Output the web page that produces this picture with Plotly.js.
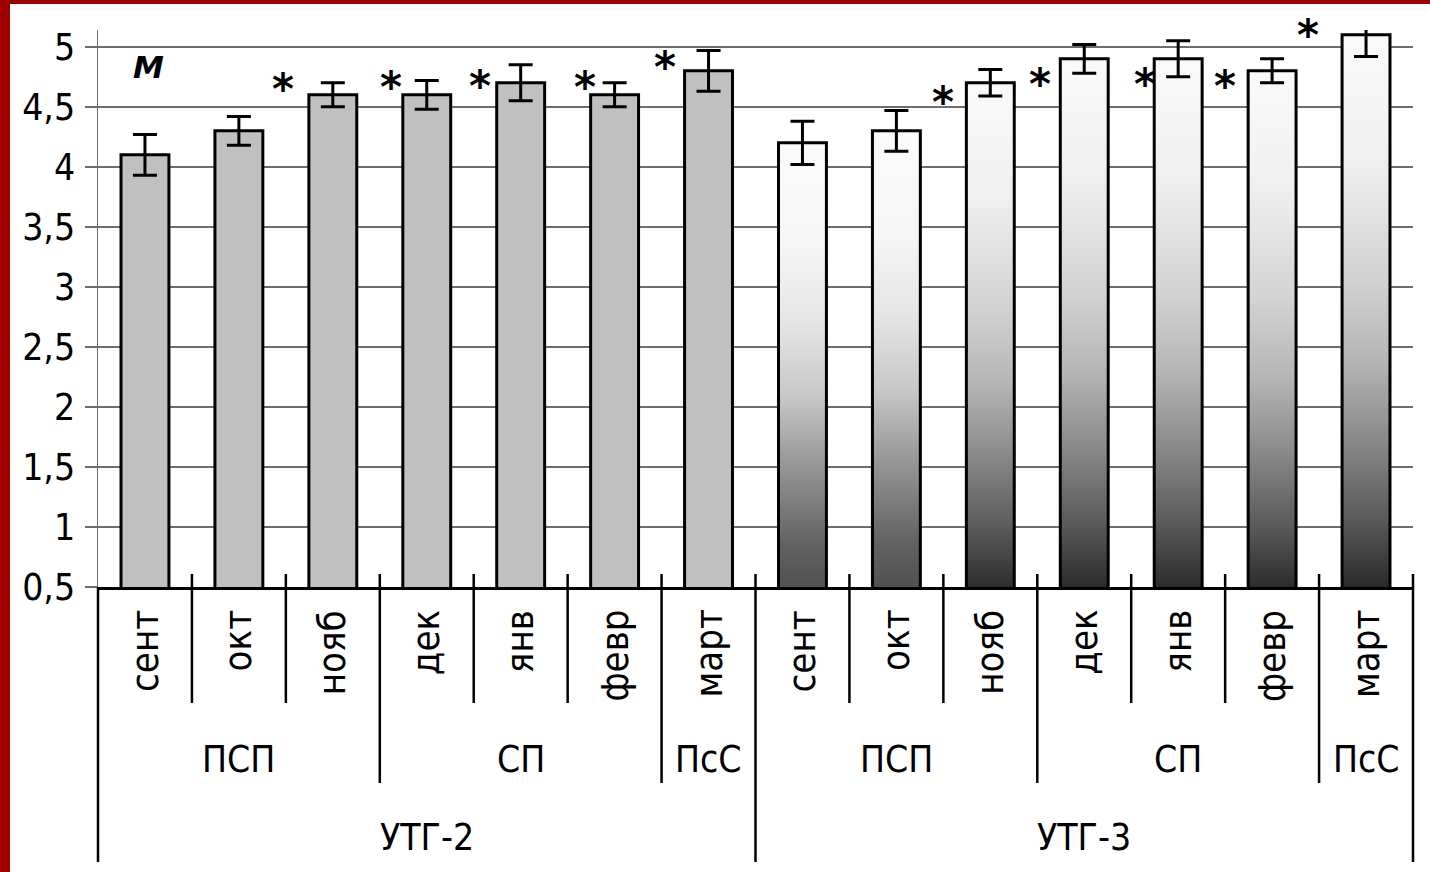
<!DOCTYPE html>
<html><head><meta charset="utf-8">
<script src="https://cdn.plot.ly/plotly-3.0.1.min.js"></script>
<style>
html,body{margin:0;padding:0;background:#fff;overflow:hidden;}
#frame{width:1420px;height:868px;border-left:10px solid #9e0000;border-top:4px solid #9e0000;}
#chart{width:1420px;height:868px;}
</style></head><body><div id="frame"><div id="chart"></div></div>
<script>
// ---- data ----
const months = ['сент','окт','нояб','дек','янв','февр','март'];
const periods = ['ПСП','ПСП','ПСП','СП','СП','СП','ПсС'];
const groups = ['УТГ-2','УТГ-3'];
const utg2Values = [4.1, 4.3, 4.6, 4.6, 4.7, 4.6, 4.8];
const utg2Errors = [0.17, 0.12, 0.10, 0.12, 0.15, 0.10, 0.17];
const utg3Values = [4.2, 4.3, 4.7, 4.9, 4.9, 4.8, 5.1];
const utg3Errors = [0.18, 0.17, 0.11, 0.12, 0.15, 0.10, 0.18];
const starX = [1.47, 2.62, 3.57, 4.68, 5.54, 8.50, 9.53, 10.65, 11.50, 12.38];
const starY = [4.69, 4.70, 4.71, 4.70, 4.87, 4.58, 4.73, 4.73, 4.71, 5.14];
const markLabel = 'M';
const markPos = [0.04, 4.83];
const yTicks = [0.5, 1, 1.5, 2, 2.5, 3, 3.5, 4, 4.5, 5];

// ---- layout helpers (page pixel -> paper) ----
const PLOT_BOTTOM = 587, PLOT_H = 557;
const py = yPage => (PLOT_BOTTOM - yPage) / PLOT_H;
const N = months.length * groups.length;
const FONT = 'DejaVu Sans Condensed, DejaVu Sans, sans-serif';

const idx2 = months.map((_, i) => i);
const idx3 = months.map((_, i) => i + months.length);

const traces = [
  {type:'bar', x: idx2, y: utg2Values, name: groups[0],
   marker:{color:'#c0c0c0', line:{color:'#000', width:3}},
   error_y:{type:'data', array: utg2Errors, visible:true, color:'#000', thickness:3, width:12}},
  {type:'bar', x: idx3, y: utg3Values, name: groups[1],
   marker:{color:'#ffffff', line:{color:'#000', width:3}},
   error_y:{type:'data', array: utg3Errors, visible:true, color:'#000', thickness:3, width:12}}
];

const shapes = [];
const annotations = [];
// category boundaries and hierarchical dividers
for (let k = 0; k <= N; k++) {
  const local = k % months.length;
  let bottom, top = 574;
  if (local === 0) { bottom = 862; if (k === 0) top = 587; }
  else if (periods[local] !== periods[local - 1]) bottom = 783;
  else bottom = 703;
  shapes.push({type:'line', xref:'paper', yref:'paper', x0:k / N, x1:k / N,
    y0: py(top), y1: py(bottom), line:{color:'#000', width:2.5}});
}
// month labels
groups.forEach((g, gi) => {
  months.forEach((m, i) => {
    annotations.push({text:m, xref:'x', yref:'paper', x: gi * months.length + i, y: py(608),
      xanchor:'center', yanchor:'top', textangle:-90, showarrow:false,
      font:{family:FONT, size:38, color:'#000'}});
  });
  // period labels
  let s = 0;
  for (let i = 1; i <= periods.length; i++) {
    if (i === periods.length || periods[i] !== periods[s]) {
      annotations.push({text:periods[s], xref:'x', yref:'paper', x: gi * months.length + (s + i - 1) / 2,
        y: py(759), xanchor:'center', yanchor:'middle', showarrow:false,
        font:{family:FONT, size:37, color:'#000'}});
      s = i;
    }
  }
  annotations.push({text:g, xref:'x', yref:'paper', x: gi * months.length + (months.length - 1) / 2,
    y: py(838), xanchor:'center', yanchor:'middle', showarrow:false,
    font:{family:FONT, size:37, color:'#000'}});
});
// significance asterisks
starX.forEach((x, i) => {
  annotations.push({text:'*', xref:'x', yref:'y', x, y: starY[i], yshift:-5, showarrow:false,
    xanchor:'center', yanchor:'middle', font:{family:'DejaVu Sans', size:42, color:'#000', weight:'bold'}});
});
annotations.push({text:'<b><i>' + markLabel + '</i></b>', xref:'x', yref:'y', x: markPos[0], y: markPos[1],
  showarrow:false, xanchor:'center', yanchor:'middle', font:{family:'DejaVu Sans', size:31, color:'#000'}});

const layout = {
  width:1420, height:868,
  margin:{l:88, r:17, t:26, b:285},
  paper_bgcolor:'#fff', plot_bgcolor:'#fff',
  showlegend:false, separators:', ',
  bargap:0.49,
  xaxis:{range:[-0.5, N - 0.5], showticklabels:false, ticks:'', showgrid:false, zeroline:false,
         showline:true, linecolor:'#000', linewidth:3, fixedrange:true},
  yaxis:{range:[0.5, 5.14], tickvals:yTicks, ticks:'outside', ticklen:12, tickwidth:1.5, tickcolor:'#6e6e6e',
         showgrid:true, gridcolor:'#6e6e6e', gridwidth:1.5, zeroline:false,
         showline:true, linecolor:'#6e6e6e', linewidth:1.5, ticklabelstandoff:2,
         tickfont:{family:FONT, size:37, color:'#000'}, fixedrange:true},
  shapes, annotations
};

function addGradient(defs, id, stops) {
  if (document.getElementById(id)) return;
  const ns = 'http://www.w3.org/2000/svg';
  const lg = document.createElementNS(ns, 'linearGradient');
  lg.setAttribute('id', id);
  lg.setAttribute('x1', '0'); lg.setAttribute('y1', '0');
  lg.setAttribute('x2', '0'); lg.setAttribute('y2', '1');
  stops.forEach(([o, c]) => {
    const st = document.createElementNS(ns, 'stop');
    st.setAttribute('offset', o);
    st.setAttribute('stop-color', c);
    lg.appendChild(st);
  });
  defs.appendChild(lg);
}
function applyGradients(gd) {
  const svg = gd.querySelector('svg.main-svg');
  let defs = svg.querySelector('defs');
  if (!defs) { defs = document.createElementNS('http://www.w3.org/2000/svg', 'defs'); svg.insertBefore(defs, svg.firstChild); }
  addGradient(defs, 'gradSoft', [[0,'#fbfbfb'],[0.2,'#f6f6f6'],[0.35,'#e6e6e6'],[0.5,'#c8c8c8'],[0.65,'#939393'],[0.8,'#616161'],[0.92,'#4a4a4a'],[1,'#404040']]);
  addGradient(defs, 'gradHard', [[0,'#fafafa'],[0.2,'#f0f0f0'],[0.4,'#d2d2d2'],[0.53,'#b6b6b6'],[0.66,'#8a8a8a'],[0.79,'#5a5a5a'],[0.92,'#222222'],[1,'#050505']]);
  const tr = gd.querySelectorAll('.barlayer .trace');
  if (tr.length < 2) return;
  tr[1].querySelectorAll('.point path').forEach((p, i) => {
    p.style.fill = i < 2 ? 'url(#gradSoft)' : 'url(#gradHard)';
  });
}
const gd = document.getElementById('chart');
Plotly.newPlot(gd, traces, layout, {displayModeBar:false, staticPlot:true}).then(() => {
  applyGradients(gd);
  gd.on && gd.on('plotly_afterplot', () => applyGradients(gd));
});
</script></body></html>
